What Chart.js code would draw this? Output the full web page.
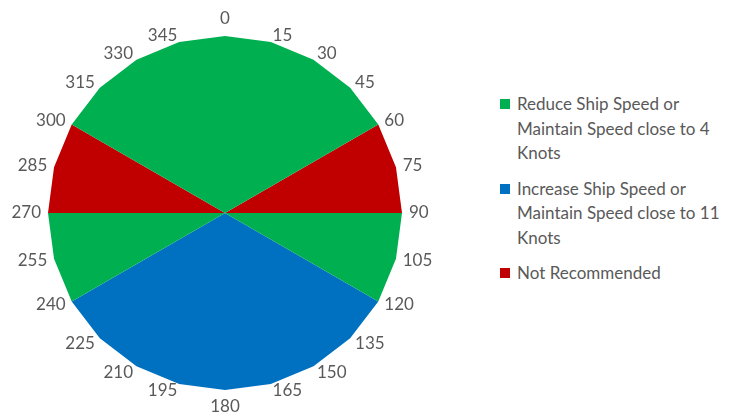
<!DOCTYPE html>
<html>
<head>
<meta charset="utf-8">
<script src="https://cdn.jsdelivr.net/npm/chart.js@4/dist/chart.umd.min.js"></script>
<style>
  html, body { margin: 0; padding: 0; background: #fff; }
  #wrap { position: relative; width: 736px; height: 419px; }
  #chartBox { position: absolute; left: 0; top: 0; width: 450px; height: 419px; }
  #legend { position: absolute; left: 500px; top: 92px; font-family: Lato, "Open Sans", sans-serif; font-size: 17px; color: #595959; }
  .item { position: relative; padding-left: 17px; line-height: 24.5px; margin-bottom: 11px; }
  .item .sw { position: absolute; left: 0; top: 7px; width: 10px; height: 10px; }
</style>
</head>
<body>
<div id="wrap">
  <div id="chartBox"><canvas id="chart"></canvas></div>
  <div id="legend"></div>
</div>
<script>
// ============================================================
// HEADING ZONES (relative wind direction, deg)
// ============================================================

const headings = ['0','15','30','45','60','75','90','105','120','135','150','165',
                  '180','195','210','225','240','255','270','285','300','315','330','345'];

// 1 = zone applies at that heading, 0 = not
const reduceZone   = [1,1,1,1,1,0,1,1,1,0,0,0,0,0,0,0,1,1,1,0,1,1,1,1];
const increaseZone = [0,0,0,0,0,0,0,0,1,1,1,1,1,1,1,1,1,0,0,0,0,0,0,0];
const notRecZone   = [0,0,0,0,1,1,1,0,0,0,0,0,0,0,0,0,0,0,1,1,1,0,0,0];

const seriesNames = [
  ['Reduce Ship Speed or', 'Maintain Speed close to 4', 'Knots'],
  ['Increase Ship Speed or', 'Maintain Speed close to 11', 'Knots'],
  ['Not Recommended'],
];
const seriesColors = ['#00B050', '#0070C0', '#C00000'];
const seriesData = [reduceZone, increaseZone, notRecZone];

const datasets = seriesData.map((d, i) => ({
  label: seriesNames[i].join(' '),
  data: d,
  backgroundColor: seriesColors[i],
  borderColor: seriesColors[i],
  borderWidth: 0,
  pointRadius: 0,
  tension: 0,
  fill: 'origin',
}));

// heading labels sit just outside each vertex, side-anchored
const headingLabels = {
  id: 'headingLabels',
  afterDraw(chart) {
    const r = chart.scales.r, ctx = chart.ctx;
    ctx.save();
    ctx.font = '17px Lato';
    ctx.fillStyle = '#595959';
    headings.forEach((h, i) => {
      const p = r.getPointPosition(i, r.drawingArea + 7);
      const dx = p.x - r.xCenter;
      if (Math.abs(dx) < 1) {
        const top = p.y < r.yCenter;
        ctx.textAlign = 'center';
        ctx.textBaseline = top ? 'bottom' : 'top';
        ctx.fillText(h, p.x, p.y + (top ? -2 : 1));
      } else {
        ctx.textAlign = dx > 0 ? 'left' : 'right';
        ctx.textBaseline = 'middle';
        ctx.fillText(h, p.x, p.y);
      }
    });
    ctx.restore();
  }
};

new Chart(document.getElementById('chart').getContext('2d'), {
  type: 'radar',
  data: { labels: headings, datasets },
  options: {
    responsive: true, maintainAspectRatio: false, animation: false,
    layout: { padding: { top: 36, bottom: 29, left: 48, right: 48 } },
    plugins: { legend: { display: false }, tooltip: { enabled: false } },
    scales: {
      r: {
        min: 0, max: 1,
        ticks: { display: false },
        grid: { display: false },
        angleLines: { display: false },
        pointLabels: { display: false }
      }
    }
  },
  plugins: [headingLabels]
});

// legend with wrapped lines
document.getElementById('legend').innerHTML = seriesNames.map((n, i) => `
  <div class="item"><span class="sw" style="background:${seriesColors[i]}"></span>${n.join('<br>')}</div>`).join('');
</script>
</body>
</html>
